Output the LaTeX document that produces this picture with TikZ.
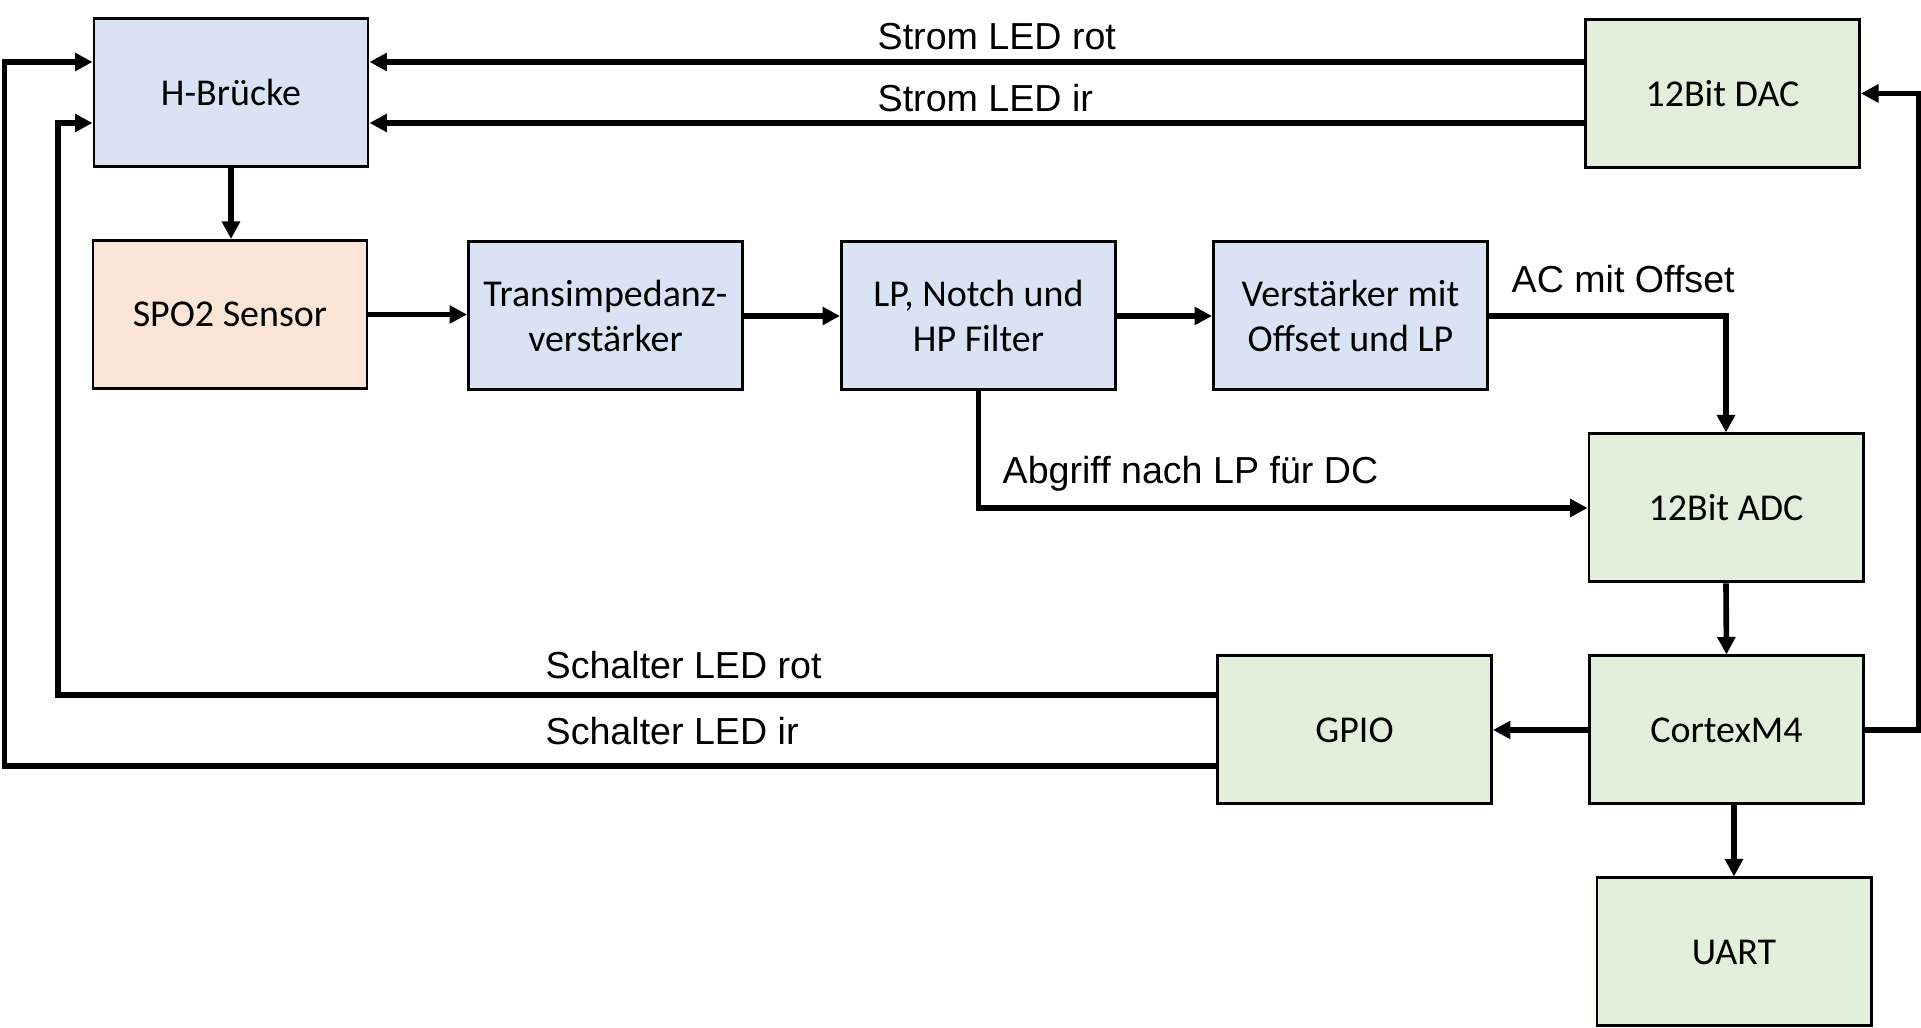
\documentclass[tikz,border=0pt]{standalone}
\usepackage{fontspec}
\setmainfont{Carlito}
\newfontfamily\labelfont{Liberation Sans}
\usepackage{xcolor}
\usepackage{tikz}
\usetikzlibrary{arrows.meta}
\definecolor{boxblue}{HTML}{DAE3F3}
\definecolor{boxorange}{HTML}{FBE5D6}
\definecolor{boxgreen}{HTML}{E2EFDA}

\begin{document}
\begin{tikzpicture}
\tikzstyle{block} = [draw,line width=0.85pt,minimum width=2.74cm,minimum height=1.48cm,align=center,inner sep=2pt,font=\fontsize{10.8}{12.8}\selectfont];
\tikzstyle{analog} = [block,fill=boxblue];
\tikzstyle{sensor} = [block,fill=boxorange];
\tikzstyle{digital} = [block,fill=boxgreen];
\tikzstyle{sig} = [font=\labelfont\fontsize{10.7}{12}\selectfont,anchor=west,inner sep=0pt];
\tikzstyle{arr} = [line width=1.6pt,-{Triangle[length=1.75mm,width=1.75mm]}];
\useasboundingbox (0,0) rectangle (19.21,10.28);
\node [analog] (hbr) at (2.31,9.355) {H-Brücke};
\node [sensor] (spo) at (2.30,7.135) {SPO2 Sensor};
\node [analog] (tia) at (6.055,7.12) {Transimpedanz-\\verstärker};
\node [analog] (filt) at (9.785,7.12) {LP, Notch und\\HP Filter};
\node [analog] (amp) at (13.505,7.12) {Verstärker mit\\Offset und LP};
\node [digital] (dac) at (17.225,9.345) {12Bit DAC};
\node [digital] (adc) at (17.26,5.20) {12Bit ADC};
\node [digital] (cpu) at (17.265,2.98) {CortexM4};
\node [digital] (gpio) at (13.545,2.98) {GPIO};
\node [digital] (uart) at (17.34,0.76) {UART};
\node [sig] (lrot) at (8.77,9.91) {Strom LED rot};
\node [sig] (lir) at (8.77,9.30) {Strom LED ir};
\node [sig] (lac) at (15.11,7.49) {AC mit Offset};
\node [sig] (ldc) at (10.02,5.54) {Abgriff nach LP für DC};
\node [sig] (lsrot) at (5.45,3.63) {Schalter LED rot};
\node [sig] (lsir) at (5.45,2.97) {Schalter LED ir};
\coordinate (outer) at (0.045,0);
\coordinate (inner) at (0.58,0);
\draw [arr] ([yshift=3.15mm]dac.west) -- ([yshift=3.15mm]dac.west -| hbr.east);
\draw [arr] ([yshift=-2.95mm]dac.west) -- ([yshift=-2.95mm]dac.west -| hbr.east);
\draw [arr] ([yshift=-3.6mm]gpio.west) -| ([yshift=3.05mm]hbr.west -| outer) -- ([yshift=3.05mm]hbr.west);
\draw [arr] ([yshift=3.5mm]gpio.west) -| ([yshift=-3.05mm]hbr.west -| inner) -- ([yshift=-3.05mm]hbr.west);
\draw [arr] (hbr.south) -- (hbr.south |- spo.north);
\draw [arr] (spo.east) -- (spo.east -| tia.west);
\draw [arr] (tia.east) -- (filt.west);
\draw [arr] (filt.east) -- (amp.west);
\draw [arr] (amp.east) -| (adc.north);
\draw [arr] (filt.south) |- (adc.west);
\draw [arr] (adc.south) -- (cpu.north);
\draw [arr] (cpu.west) -- (gpio.east);
\draw [arr] (cpu.south -| uart.north) -- (uart.north);
\draw [arr] (cpu.east) -- ++(0.54,0) |- (dac.east);
\end{tikzpicture}
\end{document}
